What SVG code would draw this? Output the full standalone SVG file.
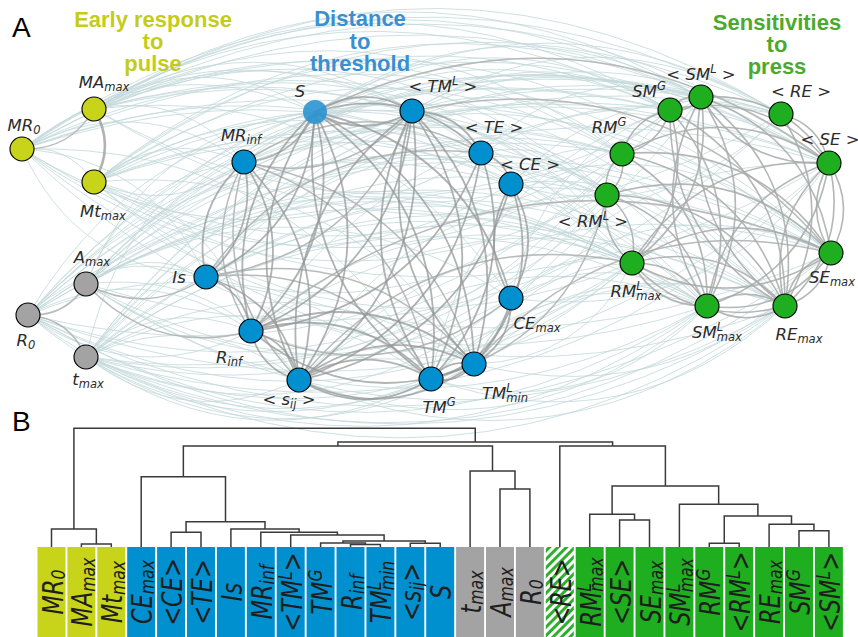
<svg xmlns="http://www.w3.org/2000/svg" width="858" height="637" viewBox="0 0 858 637">
<style>
.t{font-family:"Liberation Sans",Arial,sans-serif;font-weight:bold;font-size:22px;text-anchor:middle}
.pl{font-family:"Liberation Sans",Arial,sans-serif;font-size:28px;fill:#000}
.a{font-family:"DejaVu Sans",sans-serif;font-style:italic;font-size:16.5px;fill:#2b2b2b;text-anchor:middle}
.a .sb{font-size:11.5px;baseline-shift:-3px}
.a .sp{font-size:11.5px;baseline-shift:7px}
.b{font-family:"DejaVu Sans",sans-serif;font-style:italic;font-size:28px;fill:#1e1e1e;text-anchor:middle}
.b .sb{font-size:19.6px;baseline-shift:-2px}
.b .sp{font-size:19.6px;baseline-shift:10px}
.l{stroke:#c3d8da;stroke-width:1;stroke-opacity:.8}
.d{stroke:#939695;stroke-width:1.8;stroke-opacity:.72}
.g{stroke:#a7aaa9;stroke-width:1.6;stroke-opacity:.85}
.m{stroke:#b0b4b3;stroke-width:1.5;stroke-opacity:.9}
.n{stroke:#000;stroke-width:1.1}
.y{fill:#c8d419}.bl{fill:#0090d0}.gr{fill:#a3a3a3}.gn{fill:#1fae1f}
.dg{fill:none;stroke:#3a3a3a;stroke-width:1.5}
</style>
<defs>
<path id="c" d="M0 0Q.5 -.3 1 0" fill="none" vector-effect="non-scaling-stroke"/>
<pattern id="h" patternUnits="userSpaceOnUse" width="6" height="6" patternTransform="rotate(45)">
<rect width="6" height="6" fill="#fff"/><rect width="3" height="6" fill="#2cb02c"/>
</pattern>
</defs>
<rect width="858" height="637" fill="#fff"/>
<g id="connectors">
<g class="l">
<use href="#c" transform="matrix(648 -39 39 648 22 149)"/>
<use href="#c" transform="matrix(679 -52 52 679 22 149)"/>
<use href="#c" transform="matrix(759 -35 35 759 22 149)"/>
<use href="#c" transform="matrix(807 14 -14 807 22 149)"/>
<use href="#c" transform="matrix(600 5 -5 600 22 149)"/>
<use href="#c" transform="matrix(585 46 -46 585 22 149)"/>
<use href="#c" transform="matrix(610 114 -114 610 22 149)"/>
<use href="#c" transform="matrix(809 104 -104 809 22 149)"/>
<use href="#c" transform="matrix(685 157 -157 685 22 149)"/>
<use href="#c" transform="matrix(763 157 -157 763 22 149)"/>
<use href="#c" transform="matrix(576 1 -1 576 94 109)"/>
<use href="#c" transform="matrix(607 -12 12 607 94 109)"/>
<use href="#c" transform="matrix(687 5 -5 687 94 109)"/>
<use href="#c" transform="matrix(735 54 -54 735 94 109)"/>
<use href="#c" transform="matrix(528 45 -45 528 94 109)"/>
<use href="#c" transform="matrix(513 86 -86 513 94 109)"/>
<use href="#c" transform="matrix(538 154 -154 538 94 109)"/>
<use href="#c" transform="matrix(737 144 -144 737 94 109)"/>
<use href="#c" transform="matrix(613 197 -197 613 94 109)"/>
<use href="#c" transform="matrix(691 197 -197 691 94 109)"/>
<use href="#c" transform="matrix(576 -72 72 576 94 182)"/>
<use href="#c" transform="matrix(607 -85 85 607 94 182)"/>
<use href="#c" transform="matrix(687 -68 68 687 94 182)"/>
<use href="#c" transform="matrix(735 -19 19 735 94 182)"/>
<use href="#c" transform="matrix(528 -28 28 528 94 182)"/>
<use href="#c" transform="matrix(513 13 -13 513 94 182)"/>
<use href="#c" transform="matrix(538 81 -81 538 94 182)"/>
<use href="#c" transform="matrix(737 71 -71 737 94 182)"/>
<use href="#c" transform="matrix(613 124 -124 613 94 182)"/>
<use href="#c" transform="matrix(691 124 -124 691 94 182)"/>
<use href="#c" transform="matrix(584 -174 174 584 86 284)"/>
<use href="#c" transform="matrix(615 -187 187 615 86 284)"/>
<use href="#c" transform="matrix(695 -170 170 695 86 284)"/>
<use href="#c" transform="matrix(743 -121 121 743 86 284)"/>
<use href="#c" transform="matrix(536 -130 130 536 86 284)"/>
<use href="#c" transform="matrix(521 -89 89 521 86 284)"/>
<use href="#c" transform="matrix(546 -21 21 546 86 284)"/>
<use href="#c" transform="matrix(745 -31 31 745 86 284)"/>
<use href="#c" transform="matrix(621 22 -22 621 86 284)"/>
<use href="#c" transform="matrix(699 22 -22 699 86 284)"/>
<use href="#c" transform="matrix(642 -205 205 642 28 315)"/>
<use href="#c" transform="matrix(673 -218 218 673 28 315)"/>
<use href="#c" transform="matrix(753 -201 201 753 28 315)"/>
<use href="#c" transform="matrix(801 -152 152 801 28 315)"/>
<use href="#c" transform="matrix(594 -161 161 594 28 315)"/>
<use href="#c" transform="matrix(579 -120 120 579 28 315)"/>
<use href="#c" transform="matrix(604 -52 52 604 28 315)"/>
<use href="#c" transform="matrix(803 -62 62 803 28 315)"/>
<use href="#c" transform="matrix(679 -9 9 679 28 315)"/>
<use href="#c" transform="matrix(757 -9 9 757 28 315)"/>
<use href="#c" transform="matrix(584 -247 247 584 86 357)"/>
<use href="#c" transform="matrix(615 -260 260 615 86 357)"/>
<use href="#c" transform="matrix(695 -243 243 695 86 357)"/>
<use href="#c" transform="matrix(743 -194 194 743 86 357)"/>
<use href="#c" transform="matrix(536 -203 203 536 86 357)"/>
<use href="#c" transform="matrix(521 -162 162 521 86 357)"/>
<use href="#c" transform="matrix(546 -94 94 546 86 357)"/>
<use href="#c" transform="matrix(745 -104 104 745 86 357)"/>
<use href="#c" transform="matrix(621 -51 51 621 86 357)"/>
<use href="#c" transform="matrix(699 -51 51 699 86 357)"/>
<use href="#c" transform="matrix(-621 51 -51 -621 707 306)"/>
<use href="#c" transform="matrix(-679 9 -9 -679 707 306)"/>
<use href="#c" transform="matrix(-621 -22 22 -621 707 306)"/>
<use href="#c" transform="matrix(-685 -157 157 -685 707 306)"/>
<use href="#c" transform="matrix(-699 51 -51 -699 785 306)"/>
<use href="#c" transform="matrix(-757 9 -9 -757 785 306)"/>
<use href="#c" transform="matrix(-699 -22 22 -699 785 306)"/>
<use href="#c" transform="matrix(-691 -124 124 -691 785 306)"/>
<use href="#c" transform="matrix(-745 104 -104 -745 831 253)"/>
<use href="#c" transform="matrix(-803 62 -62 -803 831 253)"/>
<use href="#c" transform="matrix(-809 -104 104 -809 831 253)"/>
<use href="#c" transform="matrix(-546 94 -94 -546 632 263)"/>
<use href="#c" transform="matrix(-604 52 -52 -604 632 263)"/>
<use href="#c" transform="matrix(-546 21 -21 -546 632 263)"/>
<use href="#c" transform="matrix(-538 -81 81 -538 632 263)"/>
<use href="#c" transform="matrix(-579 120 -120 -579 607 195)"/>
<use href="#c" transform="matrix(-521 162 -162 -521 607 195)"/>
<use href="#c" transform="matrix(-585 -46 46 -585 607 195)"/>
<use href="#c" transform="matrix(-536 203 -203 -536 622 154)"/>
<use href="#c" transform="matrix(-528 28 -28 -528 622 154)"/>
<use href="#c" transform="matrix(-743 194 -194 -743 829 163)"/>
<use href="#c" transform="matrix(-801 152 -152 -801 829 163)"/>
<use href="#c" transform="matrix(-807 -14 14 -807 829 163)"/>
<use href="#c" transform="matrix(-642 205 -205 -642 670 110)"/>
<use href="#c" transform="matrix(-615 260 -260 -615 701 97)"/>
<use href="#c" transform="matrix(-695 170 -170 -695 781 114)"/>
<use href="#c" transform="matrix(-687 -5 5 -687 781 114)"/>
<use href="#c" transform="matrix(-607 12 -12 -607 701 97)"/>
<use href="#c" transform="matrix(-576 72 -72 -576 670 110)"/>
<use href="#c" transform="matrix(222 13 -13 222 22 149)"/>
<use href="#c" transform="matrix(293 -37 37 293 22 149)"/>
<use href="#c" transform="matrix(390 -38 38 390 22 149)"/>
<use href="#c" transform="matrix(184 128 -128 184 22 149)"/>
<use href="#c" transform="matrix(409 230 -230 409 22 149)"/>
<use href="#c" transform="matrix(221 3 -3 221 94 109)"/>
<use href="#c" transform="matrix(318 2 -2 318 94 109)"/>
<use href="#c" transform="matrix(387 44 -44 387 94 109)"/>
<use href="#c" transform="matrix(150 53 -53 150 94 109)"/>
<use href="#c" transform="matrix(417 189 -189 417 94 109)"/>
<use href="#c" transform="matrix(150 -20 20 150 94 182)"/>
<use href="#c" transform="matrix(417 2 -2 417 94 182)"/>
<use href="#c" transform="matrix(157 149 -149 157 94 182)"/>
<use href="#c" transform="matrix(380 182 -182 380 94 182)"/>
<use href="#c" transform="matrix(120 -7 7 120 86 284)"/>
<use href="#c" transform="matrix(158 -122 122 158 86 284)"/>
<use href="#c" transform="matrix(229 -172 172 229 86 284)"/>
<use href="#c" transform="matrix(395 -131 131 395 86 284)"/>
<use href="#c" transform="matrix(425 14 -14 425 86 284)"/>
<use href="#c" transform="matrix(213 96 -96 213 86 284)"/>
<use href="#c" transform="matrix(178 -38 38 178 28 315)"/>
<use href="#c" transform="matrix(223 16 -16 223 28 315)"/>
<use href="#c" transform="matrix(384 -204 204 384 28 315)"/>
<use href="#c" transform="matrix(483 -131 131 483 28 315)"/>
<use href="#c" transform="matrix(403 64 -64 403 28 315)"/>
<use href="#c" transform="matrix(165 -26 26 165 86 357)"/>
<use href="#c" transform="matrix(213 23 -23 213 86 357)"/>
<use href="#c" transform="matrix(345 22 -22 345 86 357)"/>
<use href="#c" transform="matrix(388 7 -7 388 86 357)"/>
<use href="#c" transform="matrix(229 -245 245 229 86 357)"/>
<use href="#c" transform="matrix(-213 -23 23 -213 299 380)"/>
<use href="#c" transform="matrix(-403 -64 64 -403 431 379)"/>
<use href="#c" transform="matrix(-388 -7 7 -388 474 364)"/>
<use href="#c" transform="matrix(-425 -14 14 -425 511 298)"/>
<use href="#c" transform="matrix(-223 -16 16 -223 251 331)"/>
<use href="#c" transform="matrix(-184 -128 128 -184 206 277)"/>
<use href="#c" transform="matrix(-150 20 -20 -150 244 162)"/>
<use href="#c" transform="matrix(-345 -22 22 -345 431 379)"/>
<use href="#c" transform="matrix(-446 -49 49 -446 474 364)"/>
<use href="#c" transform="matrix(-417 -2 2 -417 511 184)"/>
<use href="#c" transform="matrix(-459 -4 4 -459 481 153)"/>
<use href="#c" transform="matrix(-425 59 -59 -425 511 298)"/>
<use href="#c" transform="matrix(355 -2 2 355 315 112)"/>
<use href="#c" transform="matrix(386 -15 15 386 315 112)"/>
<use href="#c" transform="matrix(466 2 -2 466 315 112)"/>
<use href="#c" transform="matrix(317 151 -151 317 315 112)"/>
<use href="#c" transform="matrix(258 -1 1 258 412 111)"/>
<use href="#c" transform="matrix(369 3 -3 369 412 111)"/>
<use href="#c" transform="matrix(417 52 -52 417 412 111)"/>
<use href="#c" transform="matrix(210 43 -43 210 412 111)"/>
<use href="#c" transform="matrix(220 -56 56 220 481 153)"/>
<use href="#c" transform="matrix(348 10 -10 348 481 153)"/>
<use href="#c" transform="matrix(126 42 -42 126 481 153)"/>
<use href="#c" transform="matrix(226 153 -153 226 481 153)"/>
<use href="#c" transform="matrix(111 -30 30 111 511 184)"/>
<use href="#c" transform="matrix(270 -70 70 270 511 184)"/>
<use href="#c" transform="matrix(320 69 -69 320 511 184)"/>
<use href="#c" transform="matrix(274 122 -122 274 511 184)"/>
<use href="#c" transform="matrix(426 -52 52 426 244 162)"/>
<use href="#c" transform="matrix(585 1 -1 585 244 162)"/>
<use href="#c" transform="matrix(363 33 -33 363 244 162)"/>
<use href="#c" transform="matrix(587 91 -91 587 244 162)"/>
<use href="#c" transform="matrix(426 -14 14 426 206 277)"/>
<use href="#c" transform="matrix(495 -180 180 495 206 277)"/>
<use href="#c" transform="matrix(501 29 -29 501 206 277)"/>
<use href="#c" transform="matrix(416 -123 123 416 206 277)"/>
<use href="#c" transform="matrix(381 -68 68 381 251 331)"/>
<use href="#c" transform="matrix(534 -25 25 534 251 331)"/>
<use href="#c" transform="matrix(530 -217 217 530 251 331)"/>
<use href="#c" transform="matrix(408 -74 74 408 299 380)"/>
<use href="#c" transform="matrix(308 -185 185 308 299 380)"/>
<use href="#c" transform="matrix(532 -127 127 532 299 380)"/>
<use href="#c" transform="matrix(276 -73 73 276 431 379)"/>
<use href="#c" transform="matrix(354 -73 73 354 431 379)"/>
<use href="#c" transform="matrix(239 -269 269 239 431 379)"/>
<use href="#c" transform="matrix(158 -101 101 158 474 364)"/>
<use href="#c" transform="matrix(355 -201 201 355 474 364)"/>
<use href="#c" transform="matrix(311 -58 58 311 474 364)"/>
<use href="#c" transform="matrix(121 -35 35 121 511 298)"/>
<use href="#c" transform="matrix(196 8 -8 196 511 298)"/>
<use href="#c" transform="matrix(320 -45 45 320 511 298)"/>
<use href="#c" transform="matrix(190 -201 201 190 511 298)"/>
<use href="#c" transform="matrix(-408 74 -74 -408 707 306)"/>
<use href="#c" transform="matrix(-354 73 -73 -354 785 306)"/>
<use href="#c" transform="matrix(-381 68 -68 -381 632 263)"/>
<use href="#c" transform="matrix(-357 111 -111 -357 831 253)"/>
<use href="#c" transform="matrix(-96 103 -103 -96 607 195)"/>
<use href="#c" transform="matrix(-416 123 -123 -416 622 154)"/>
<use href="#c" transform="matrix(-318 135 -135 -318 829 163)"/>
<use href="#c" transform="matrix(-486 74 -74 -486 785 306)"/>
<use href="#c" transform="matrix(-276 73 -73 -276 707 306)"/>
<use href="#c" transform="matrix(-158 101 -101 -158 632 263)"/>
<use href="#c" transform="matrix(-426 52 -52 -426 670 110)"/>
<use href="#c" transform="matrix(-270 70 -70 -270 781 114)"/>
<use href="#c" transform="matrix(72 33 -33 72 22 149)"/>
</g>
<g class="m">
<use href="#c" transform="matrix(514 51 -51 514 315 112)"/>
<use href="#c" transform="matrix(419 142 -142 419 412 111)"/>
<use href="#c" transform="matrix(580 -78 78 580 251 331)"/>
<use href="#c" transform="matrix(333 -117 117 333 299 380)"/>
<use href="#c" transform="matrix(357 -111 111 357 474 364)"/>
<use href="#c" transform="matrix(-176 184 -184 -176 607 195)"/>
<use href="#c" transform="matrix(-72 40 -40 -72 94 109)"/>
<use href="#c" transform="matrix(-120 7 -7 -120 206 277)"/>
<use href="#c" transform="matrix(-165 -47 47 -165 251 331)"/>
<use href="#c" transform="matrix(-58 31 -31 -58 86 284)"/>
<use href="#c" transform="matrix(58 42 -42 58 28 315)"/>
<use href="#c" transform="matrix(-7 -169 169 -7 251 331)"/>
<use href="#c" transform="matrix(-55 -218 218 -55 299 380)"/>
<use href="#c" transform="matrix(187 217 -217 187 244 162)"/>
<use href="#c" transform="matrix(230 202 -202 230 244 162)"/>
<use href="#c" transform="matrix(237 -9 9 237 244 162)"/>
<use href="#c" transform="matrix(225 102 -102 225 206 277)"/>
<use href="#c" transform="matrix(268 87 -87 268 206 277)"/>
<use href="#c" transform="matrix(275 -124 124 275 206 277)"/>
<use href="#c" transform="matrix(-260 33 -33 -260 511 298)"/>
<use href="#c" transform="matrix(-206 166 -166 -206 412 111)"/>
<use href="#c" transform="matrix(-168 51 -51 -168 412 111)"/>
</g>
<g class="g">
<use href="#c" transform="matrix(31 -13 13 31 670 110)"/>
<use href="#c" transform="matrix(-31 13 -13 -31 701 97)"/>
<use href="#c" transform="matrix(-48 44 -44 -48 670 110)"/>
<use href="#c" transform="matrix(48 -44 44 48 622 154)"/>
<use href="#c" transform="matrix(-15 41 -41 -15 622 154)"/>
<use href="#c" transform="matrix(15 -41 41 15 607 195)"/>
<use href="#c" transform="matrix(6 209 -209 6 701 97)"/>
<use href="#c" transform="matrix(-6 -209 209 -6 707 306)"/>
<use href="#c" transform="matrix(84 209 -209 84 701 97)"/>
<use href="#c" transform="matrix(-84 -209 209 -84 785 306)"/>
<use href="#c" transform="matrix(37 196 -196 37 670 110)"/>
<use href="#c" transform="matrix(115 196 -196 115 670 110)"/>
<use href="#c" transform="matrix(-115 -196 196 -115 785 306)"/>
<use href="#c" transform="matrix(128 66 -66 128 701 97)"/>
<use href="#c" transform="matrix(-128 -66 66 -128 829 163)"/>
<use href="#c" transform="matrix(130 156 -156 130 701 97)"/>
<use href="#c" transform="matrix(2 90 -90 2 829 163)"/>
<use href="#c" transform="matrix(-2 -90 90 -2 831 253)"/>
<use href="#c" transform="matrix(-44 143 -143 -44 829 163)"/>
<use href="#c" transform="matrix(44 -143 143 44 785 306)"/>
<use href="#c" transform="matrix(-122 143 -143 -122 829 163)"/>
<use href="#c" transform="matrix(122 -143 143 122 707 306)"/>
<use href="#c" transform="matrix(85 152 -152 85 622 154)"/>
<use href="#c" transform="matrix(163 152 -152 163 622 154)"/>
<use href="#c" transform="matrix(209 99 -99 209 622 154)"/>
<use href="#c" transform="matrix(100 111 -111 100 607 195)"/>
<use href="#c" transform="matrix(178 111 -111 178 607 195)"/>
<use href="#c" transform="matrix(75 43 -43 75 632 263)"/>
<use href="#c" transform="matrix(-75 -43 43 -75 707 306)"/>
<use href="#c" transform="matrix(153 43 -43 153 632 263)"/>
<use href="#c" transform="matrix(-153 -43 43 -153 785 306)"/>
<use href="#c" transform="matrix(199 -10 10 199 632 263)"/>
<use href="#c" transform="matrix(-199 10 -10 -199 831 253)"/>
<use href="#c" transform="matrix(78 0 0 78 707 306)"/>
<use href="#c" transform="matrix(-78 0 0 -78 785 306)"/>
<use href="#c" transform="matrix(-46 53 -53 -46 831 253)"/>
<use href="#c" transform="matrix(46 -53 53 46 785 306)"/>
<use href="#c" transform="matrix(-124 53 -53 -124 831 253)"/>
<use href="#c" transform="matrix(4 192 -192 4 781 114)"/>
<use href="#c" transform="matrix(48 49 -49 48 781 114)"/>
<use href="#c" transform="matrix(159 53 -53 159 670 110)"/>
<use href="#c" transform="matrix(207 9 -9 207 622 154)"/>
<use href="#c" transform="matrix(25 68 -68 25 607 195)"/>
<use href="#c" transform="matrix(-25 -68 68 -25 632 263)"/>
<use href="#c" transform="matrix(-38 153 -153 -38 670 110)"/>
<use href="#c" transform="matrix(-69 166 -166 -69 701 97)"/>
<use href="#c" transform="matrix(224 58 -58 224 607 195)"/>
<use href="#c" transform="matrix(197 -100 100 197 632 263)"/>
</g>
<g class="d">
<use href="#c" transform="matrix(97 -1 1 97 315 112)"/>
<use href="#c" transform="matrix(-97 1 -1 -97 412 111)"/>
<use href="#c" transform="matrix(-16 268 -268 -16 315 112)"/>
<use href="#c" transform="matrix(16 -268 268 16 299 380)"/>
<use href="#c" transform="matrix(116 267 -267 116 315 112)"/>
<use href="#c" transform="matrix(-116 -267 267 -116 431 379)"/>
<use href="#c" transform="matrix(159 252 -252 159 315 112)"/>
<use href="#c" transform="matrix(-64 219 -219 -64 315 112)"/>
<use href="#c" transform="matrix(64 -219 219 64 251 331)"/>
<use href="#c" transform="matrix(-109 165 -165 -109 315 112)"/>
<use href="#c" transform="matrix(166 41 -41 166 315 112)"/>
<use href="#c" transform="matrix(196 186 -186 196 315 112)"/>
<use href="#c" transform="matrix(-71 50 -50 -71 315 112)"/>
<use href="#c" transform="matrix(-113 269 -269 -113 412 111)"/>
<use href="#c" transform="matrix(113 -269 269 113 299 380)"/>
<use href="#c" transform="matrix(19 268 -268 19 412 111)"/>
<use href="#c" transform="matrix(-19 -268 268 -19 431 379)"/>
<use href="#c" transform="matrix(62 253 -253 62 412 111)"/>
<use href="#c" transform="matrix(-62 -253 253 -62 474 364)"/>
<use href="#c" transform="matrix(-161 220 -220 -161 412 111)"/>
<use href="#c" transform="matrix(69 42 -42 69 412 111)"/>
<use href="#c" transform="matrix(30 31 -31 30 481 153)"/>
<use href="#c" transform="matrix(-50 226 -226 -50 481 153)"/>
<use href="#c" transform="matrix(-182 227 -227 -182 481 153)"/>
<use href="#c" transform="matrix(-230 178 -178 -230 481 153)"/>
<use href="#c" transform="matrix(0 114 -114 0 511 184)"/>
<use href="#c" transform="matrix(0 -114 114 0 511 298)"/>
<use href="#c" transform="matrix(-212 196 -196 -212 511 184)"/>
<use href="#c" transform="matrix(-37 180 -180 -37 511 184)"/>
<use href="#c" transform="matrix(-38 115 -115 -38 244 162)"/>
<use href="#c" transform="matrix(38 -115 115 38 206 277)"/>
<use href="#c" transform="matrix(7 169 -169 7 244 162)"/>
<use href="#c" transform="matrix(55 218 -218 55 244 162)"/>
<use href="#c" transform="matrix(45 54 -54 45 206 277)"/>
<use href="#c" transform="matrix(93 103 -103 93 206 277)"/>
<use href="#c" transform="matrix(48 49 -49 48 251 331)"/>
<use href="#c" transform="matrix(-48 -49 49 -48 299 380)"/>
<use href="#c" transform="matrix(180 48 -48 180 251 331)"/>
<use href="#c" transform="matrix(223 33 -33 223 251 331)"/>
<use href="#c" transform="matrix(-223 -33 33 -223 474 364)"/>
<use href="#c" transform="matrix(132 -1 1 132 299 380)"/>
<use href="#c" transform="matrix(-132 1 -1 -132 431 379)"/>
<use href="#c" transform="matrix(175 -16 16 175 299 380)"/>
<use href="#c" transform="matrix(-175 16 -16 -175 474 364)"/>
<use href="#c" transform="matrix(43 -15 15 43 431 379)"/>
<use href="#c" transform="matrix(-43 15 -15 -43 474 364)"/>
<use href="#c" transform="matrix(-37 66 -66 -37 511 298)"/>
<use href="#c" transform="matrix(-80 81 -81 -80 511 298)"/>
<use href="#c" transform="matrix(0 73 -73 0 94 109)" style="stroke-width:2.6"/>
</g>
</g>
<text class="pl" x="12" y="37">A</text>
<text class="pl" x="12" y="431">B</text>
<text class="t" fill="#c3cd19"><tspan x="153" y="27">Early response</tspan><tspan x="153" y="49">to</tspan><tspan x="153" y="71">pulse</tspan></text>
<text class="t" fill="#3a8fd0"><tspan x="360" y="26">Distance</tspan><tspan x="360" y="49">to</tspan><tspan x="360" y="71">threshold</tspan></text>
<text class="t" fill="#4baa2d"><tspan x="777" y="30">Sensitivities</tspan><tspan x="777" y="52">to</tspan><tspan x="777" y="74">press</tspan></text>
<g id="nodes-A">
<g id="n-MR0"><circle class="n y" cx="22" cy="149" r="12"/><text class="a" x="24" y="131">MR<tspan class="sb">0</tspan></text></g>
<g id="n-MAmax"><circle class="n y" cx="94" cy="109" r="12"/><text class="a" x="104" y="88">MA<tspan class="sb">max</tspan></text></g>
<g id="n-Mtmax"><circle class="n y" cx="94" cy="182" r="12"/><text class="a" x="103" y="217">Mt<tspan class="sb">max</tspan></text></g>
<g id="n-Amax"><circle class="n gr" cx="86" cy="284" r="12"/><text class="a" x="92" y="263">A<tspan class="sb">max</tspan></text></g>
<g id="n-R0"><circle class="n gr" cx="28" cy="315" r="12"/><text class="a" x="26" y="346">R<tspan class="sb">0</tspan></text></g>
<g id="n-tmax"><circle class="n gr" cx="86" cy="357" r="12"/><text class="a" x="88" y="385">t<tspan class="sb">max</tspan></text></g>
<g id="n-S"><circle cx="315" cy="112" r="12" fill="#2a93d2" opacity=".9"/><text class="a" x="300" y="97">S</text></g>
<g id="n-TML"><circle class="n bl" cx="412" cy="111" r="12"/><text class="a" x="443" y="92">&lt; TM<tspan class="sp">L</tspan> &gt;</text></g>
<g id="n-TE"><circle class="n bl" cx="481" cy="153" r="12"/><text class="a" x="494" y="133">&lt; TE &gt;</text></g>
<g id="n-CE"><circle class="n bl" cx="511" cy="184" r="12"/><text class="a" x="530" y="170">&lt; CE &gt;</text></g>
<g id="n-MRinf"><circle class="n bl" cx="244" cy="162" r="12"/><text class="a" x="241" y="141">MR<tspan class="sb">inf</tspan></text></g>
<g id="n-Is"><circle class="n bl" cx="206" cy="277" r="12"/><text class="a" x="179" y="283">Is</text></g>
<g id="n-Rinf"><circle class="n bl" cx="251" cy="331" r="12"/><text class="a" x="229" y="363">R<tspan class="sb">inf</tspan></text></g>
<g id="n-sij"><circle class="n bl" cx="299" cy="380" r="12"/><text class="a" x="289" y="405">&lt; s<tspan class="sb">ij</tspan> &gt;</text></g>
<g id="n-TMG"><circle class="n bl" cx="431" cy="379" r="12"/><text class="a" x="439" y="413">TM<tspan class="sp">G</tspan></text></g>
<g id="n-TMLmin"><circle class="n bl" cx="474" cy="364" r="12"/><text class="a" x="505" y="399">TM<tspan class="sp">L</tspan><tspan class="sb" dx="-6.4">min</tspan></text></g>
<g id="n-CEmax"><circle class="n bl" cx="511" cy="298" r="12"/><text class="a" x="537" y="329">CE<tspan class="sb">max</tspan></text></g>
<g id="n-SMG"><circle class="n gn" cx="670" cy="110" r="12"/><text class="a" x="649" y="97">SM<tspan class="sp">G</tspan></text></g>
<g id="n-SML"><circle class="n gn" cx="701" cy="97" r="12"/><text class="a" x="701" y="80">&lt; SM<tspan class="sp">L</tspan> &gt;</text></g>
<g id="n-RE"><circle class="n gn" cx="781" cy="114" r="12"/><text class="a" x="801" y="97">&lt; RE &gt;</text></g>
<g id="n-SE"><circle class="n gn" cx="829" cy="163" r="12"/><text class="a" x="830" y="145">&lt; SE &gt;</text></g>
<g id="n-RMG"><circle class="n gn" cx="622" cy="154" r="12"/><text class="a" x="609" y="133">RM<tspan class="sp">G</tspan></text></g>
<g id="n-RML"><circle class="n gn" cx="607" cy="195" r="12"/><text class="a" x="593" y="227">&lt; RM<tspan class="sp">L</tspan> &gt;</text></g>
<g id="n-RMLmax"><circle class="n gn" cx="632" cy="263" r="12"/><text class="a" x="636" y="297">RM<tspan class="sp">L</tspan><tspan class="sb" dx="-6.4">max</tspan></text></g>
<g id="n-SEmax"><circle class="n gn" cx="831" cy="253" r="12"/><text class="a" x="832" y="283">SE<tspan class="sb">max</tspan></text></g>
<g id="n-SMLmax"><circle class="n gn" cx="707" cy="306" r="12"/><text class="a" x="717" y="338">SM<tspan class="sp">L</tspan><tspan class="sb" dx="-6.4">max</tspan></text></g>
<g id="n-REmax"><circle class="n gn" cx="785" cy="306" r="12"/><text class="a" x="799" y="340">RE<tspan class="sb">max</tspan></text></g>
</g>
<g id="dendrogram" class="dg">
<path d="M81.4 547V544H111.3V547"/>
<path d="M51.5 547V529H96.35V544"/>
<path d="M171.1 547V532.3H201V547"/>
<path d="M350.5 547V544.5H380.4V547"/>
<path d="M320.6 547V543H365.45V544.5"/>
<path d="M410.3 547V543.3H440.2V547"/>
<path d="M343 543V541H425.25V543.3"/>
<path d="M290.7 547V535H384.1V541"/>
<path d="M260.8 547V532.3H337.4V535"/>
<path d="M230.9 547V529H299.1V532.3"/>
<path d="M186.05 532.3V521.7H265V529"/>
<path d="M141.2 547V476.7H225.5V521.7"/>
<path d="M500 547V489H529.9V547"/>
<path d="M470.1 547V471H515V489"/>
<path d="M183.35 476.7V446H492.5V471"/>
<path d="M619.6 547V520H649.5V547"/>
<path d="M589.7 547V514.3H634.55V520"/>
<path d="M799 547V530.7H828.9V547"/>
<path d="M769.1 547V524.3H813.95V530.7"/>
<path d="M709.3 547V543.3H739.2V547"/>
<path d="M724.25 543.3V516H791.5V524.3"/>
<path d="M679.4 547V504.3H757.9V516"/>
<path d="M612.1 514.3V486H718.65V504.3"/>
<path d="M559.8 547V446H665.4V486"/>
<path d="M337.9 446V442H612.6V446"/>
<path d="M73.9 529V428.3H475.25V442"/>
</g>
<g id="leaves">
<g id="l-MR0"><rect class="y" x="37.5" y="547" width="28" height="90"/><text class="b" transform="translate(62.5 592) rotate(-90) scale(.8 1)">MR<tspan class="sb">0</tspan></text></g>
<g id="l-MAmax"><rect class="y" x="67.4" y="547" width="28" height="90"/><text class="b" transform="translate(92.4 592) rotate(-90) scale(.8 1)">MA<tspan class="sb">max</tspan></text></g>
<g id="l-Mtmax"><rect class="y" x="97.3" y="547" width="28" height="90"/><text class="b" transform="translate(122.3 592) rotate(-90) scale(.8 1)">Mt<tspan class="sb">max</tspan></text></g>
<g id="l-CEmax"><rect class="bl" x="127.2" y="547" width="28" height="90"/><text class="b" transform="translate(152.2 592) rotate(-90) scale(.8 1)">CE<tspan class="sb">max</tspan></text></g>
<g id="l-CE"><rect class="bl" x="157.1" y="547" width="28" height="90"/><text class="b" transform="translate(182.1 592) rotate(-90) scale(.8 1)">&lt;CE&gt;</text></g>
<g id="l-TE"><rect class="bl" x="187" y="547" width="28" height="90"/><text class="b" transform="translate(212 592) rotate(-90) scale(.8 1)">&lt;TE&gt;</text></g>
<g id="l-Is"><rect class="bl" x="216.9" y="547" width="28" height="90"/><text class="b" transform="translate(241.9 592) rotate(-90) scale(.8 1)">Is</text></g>
<g id="l-MRinf"><rect class="bl" x="246.8" y="547" width="28" height="90"/><text class="b" transform="translate(271.8 592) rotate(-90) scale(.8 1)">MR<tspan class="sb">inf</tspan></text></g>
<g id="l-TML"><rect class="bl" x="276.7" y="547" width="28" height="90"/><text class="b" transform="translate(301.7 592) rotate(-90) scale(.8 1)">&lt;TM<tspan class="sp">L</tspan>&gt;</text></g>
<g id="l-TMG"><rect class="bl" x="306.6" y="547" width="28" height="90"/><text class="b" transform="translate(331.6 592) rotate(-90) scale(.8 1)">TM<tspan class="sp">G</tspan></text></g>
<g id="l-Rinf"><rect class="bl" x="336.5" y="547" width="28" height="90"/><text class="b" transform="translate(361.5 592) rotate(-90) scale(.8 1)">R<tspan class="sb">inf</tspan></text></g>
<g id="l-TMLmin"><rect class="bl" x="366.4" y="547" width="28" height="90"/><text class="b" transform="translate(391.4 592) rotate(-90) scale(.8 1)">TM<tspan class="sp">L</tspan><tspan class="sb" dx="-10.9">min</tspan></text></g>
<g id="l-sij"><rect class="bl" x="396.3" y="547" width="28" height="90"/><text class="b" transform="translate(421.3 592) rotate(-90) scale(.8 1)">&lt;s<tspan class="sb">ij</tspan>&gt;</text></g>
<g id="l-S"><rect class="bl" x="426.2" y="547" width="28" height="90"/><text class="b" transform="translate(451.2 592) rotate(-90) scale(.8 1)">S</text></g>
<g id="l-tmax"><rect class="gr" x="456.1" y="547" width="28" height="90"/><text class="b" transform="translate(481.1 592) rotate(-90) scale(.8 1)">t<tspan class="sb">max</tspan></text></g>
<g id="l-Amax"><rect class="gr" x="486" y="547" width="28" height="90"/><text class="b" transform="translate(511 592) rotate(-90) scale(.8 1)">A<tspan class="sb">max</tspan></text></g>
<g id="l-R0"><rect class="gr" x="515.9" y="547" width="28" height="90"/><text class="b" transform="translate(540.9 592) rotate(-90) scale(.8 1)">R<tspan class="sb">0</tspan></text></g>
<g id="l-RE"><rect fill="url(#h)" x="545.8" y="547" width="28" height="90"/><text class="b" transform="translate(570.8 592) rotate(-90) scale(.8 1)">&lt;RE&gt;</text></g>
<g id="l-RMLmax"><rect class="gn" x="575.7" y="547" width="28" height="90"/><text class="b" transform="translate(600.7 592) rotate(-90) scale(.8 1)">RM<tspan class="sp">L</tspan><tspan class="sb" dx="-10.9">max</tspan></text></g>
<g id="l-SE"><rect class="gn" x="605.6" y="547" width="28" height="90"/><text class="b" transform="translate(630.6 592) rotate(-90) scale(.8 1)">&lt;SE&gt;</text></g>
<g id="l-SEmax"><rect class="gn" x="635.5" y="547" width="28" height="90"/><text class="b" transform="translate(660.5 592) rotate(-90) scale(.8 1)">SE<tspan class="sb">max</tspan></text></g>
<g id="l-SMLmax"><rect class="gn" x="665.4" y="547" width="28" height="90"/><text class="b" transform="translate(690.4 592) rotate(-90) scale(.8 1)">SM<tspan class="sp">L</tspan><tspan class="sb" dx="-10.9">max</tspan></text></g>
<g id="l-RMG"><rect class="gn" x="695.3" y="547" width="28" height="90"/><text class="b" transform="translate(720.3 592) rotate(-90) scale(.8 1)">RM<tspan class="sp">G</tspan></text></g>
<g id="l-RML"><rect class="gn" x="725.2" y="547" width="28" height="90"/><text class="b" transform="translate(750.2 592) rotate(-90) scale(.8 1)">&lt;RM<tspan class="sp">L</tspan>&gt;</text></g>
<g id="l-REmax"><rect class="gn" x="755.1" y="547" width="28" height="90"/><text class="b" transform="translate(780.1 592) rotate(-90) scale(.8 1)">RE<tspan class="sb">max</tspan></text></g>
<g id="l-SMG"><rect class="gn" x="785" y="547" width="28" height="90"/><text class="b" transform="translate(810 592) rotate(-90) scale(.8 1)">SM<tspan class="sp">G</tspan></text></g>
<g id="l-SML"><rect class="gn" x="814.9" y="547" width="28" height="90"/><text class="b" transform="translate(839.9 592) rotate(-90) scale(.8 1)">&lt;SM<tspan class="sp">L</tspan>&gt;</text></g>
</g>
</svg>
